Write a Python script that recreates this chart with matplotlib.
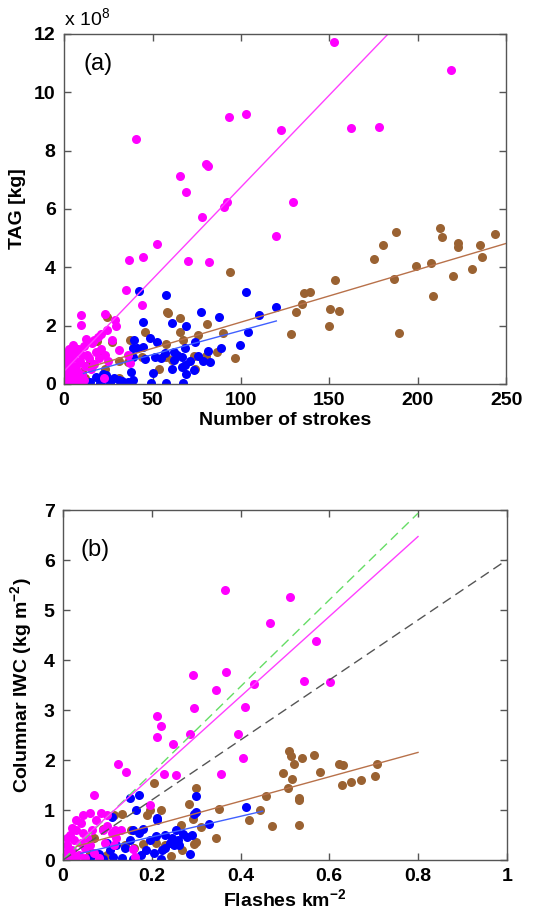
import matplotlib.pyplot as plt
import numpy as np

plt.rcParams['font.family'] = ['Liberation Sans', 'DejaVu Sans']
plt.rcParams['font.weight'] = 'bold'
plt.rcParams['axes.labelweight'] = 'bold'
plt.rcParams['mathtext.fontset'] = 'custom'
plt.rcParams['mathtext.rm'] = 'Liberation Sans:bold'
plt.rcParams['mathtext.bf'] = 'Liberation Sans:bold'

# ---- panel (a): strokes vs TAG (x 1e8 kg) ----
a_mag_x = [152.5, 218.5, 40.8, 93.0, 102.8, 122.8, 162.5, 178.3, 80.2, 81.1, 65.8, 68.9, 92.1, 90.2,
           129.4, 77.7, 119.8, 52.8, 36.8, 44.9, 70.0, 82.1, 35.0, 44.0, 9.8, 9.8, 23.2, 28.9, 29.6,
           12.3, 17.0, 20.9, 24.1, 27.0, 31.3, 36.4, 37.4, 22.6,
           1, 2, 3, 1, 2, 4, 5, 6, 3, 7, 8, 1, 2, 4, 6, 9, 10, 11, 12, 13, 8, 5, 3, 14, 16, 18,
           20, 15, 17, 19, 21, 23, 10, 6, 1, 0.5, 9, 25, 2, 4, 7, 11, 0.5, 3, 5]
a_mag_y = [11.71, 10.77, 8.40, 9.14, 9.26, 8.71, 8.77, 8.82, 7.54, 7.49, 7.12, 6.58, 6.24, 6.06,
           6.25, 5.74, 5.06, 4.79, 4.26, 4.34, 4.23, 4.19, 3.21, 2.71, 2.36, 2.01, 2.39, 2.19, 2.00,
           1.53, 1.50, 1.70, 1.85, 1.51, 1.17, 0.98, 0.71, 0.19,
           0.1, 0.3, 0.5, 0.8, 1.0, 1.2, 0.9, 1.1, 0.7, 0.6, 0.4, 0.2, 0.05, 0.05, 0.2, 0.8, 1.0,
           1.3, 0.6, 1.0, 1.2, 1.35, 1.2, 0.9, 1.4, 1.1, 0.9, 0.5, 0.7, 1.6, 1.2, 1.0, 0.3, 0.5,
           0.55, 0.4, 0.1, 0.8, 0.65, 0.35, 0.25, 0.15, 1.05, 0.0, 0.02]

a_blu_x = [42.1, 57.7, 102.8, 119.8, 110.0, 77.5, 87.7, 44.9, 60.9, 68.9, 103.8, 99.6, 88.7, 81.3,
           74.2, 68.1, 39.6, 48.7, 52.5, 38.9, 44.9, 57.2, 61.9, 66.6, 61.9, 51.5, 78.5, 82.3, 68.5,
           60.9, 50.2, 68.9, 66.6, 73.2, 37.9, 49.1, 57.5, 67.5, 38.9, 36.4, 30.8, 23.5, 25.0, 20.4,
           26.0, 14.7, 10.9, 41.5, 39.2, 33.0, 28.0, 18.0, 22.0, 64.0, 71.0, 55.0, 46.0, 76.0]
a_blu_y = [3.20, 3.06, 3.14, 2.64, 2.37, 2.46, 2.29, 2.14, 2.08, 1.98, 1.77, 1.33, 1.25, 1.13,
           1.45, 1.25, 1.51, 1.57, 1.45, 1.22, 1.28, 1.05, 1.11, 0.94, 0.82, 0.94, 0.79, 0.74, 0.65,
           0.51, 0.39, 0.34, 0.59, 0.48, 0.42, 0.05, 0.05, 0.05, 0.14, 0.08, 0.14, 0.30, 0.12, 0.05,
           0.05, 0.08, 0.05, 1.22, 0.94, 0.10, 0.20, 0.25, 0.35, 1.00, 0.80, 0.90, 0.85, 0.95]

a_brn_x = [243.6, 212.8, 213.8, 222.8, 222.8, 234.9, 236.4, 187.4, 180.4, 175.5, 198.7, 207.5, 219.8,
           230.4, 186.4, 153.4, 135.8, 138.9, 134.5, 131.1, 150.2, 155.7, 149.6, 128.5, 189.2, 208.5,
           93.6, 58.1, 59.0, 65.7, 75.7, 80.8, 89.8, 65.7, 45.5, 67.2, 57.5, 96.4, 86.4, 80.2, 73.2,
           73.8, 53.4, 57.7, 61.3, 44.0, 37.4, 27.0, 18.5, 24.5, 30.8, 23.2, 30.8, 36.4, 14.7, 10.0,
           12.0, 16.0, 20.0]
a_brn_y = [5.13, 5.36, 5.03, 4.82, 4.69, 4.77, 4.37, 5.20, 4.77, 4.29, 4.06, 4.14, 3.71,
           3.93, 3.59, 3.57, 3.11, 3.14, 2.74, 2.46, 2.56, 2.50, 1.99, 1.70, 1.76, 3.02,
           3.83, 2.48, 2.42, 2.27, 1.68, 2.06, 1.74, 1.79, 1.77, 1.51, 1.36, 0.88, 1.11, 0.97, 0.97,
           0.50, 0.50, 0.91, 0.82, 0.94, 1.51, 1.45, 1.49, 2.31, 0.79, 0.50, 0.19, 0.77, 0.77, 0.42,
           0.20, 0.60, 1.10]

# fitted lines (slope, intercept, x range)
a_mag_fit = (0.0631, 0.44, 0, 220)
a_brn_fit = (0.0180, 0.32, 14, 250)
a_blu_fit = (0.0165, 0.18, 11, 120)

# ---- panel (b): flashes vs columnar IWC ----
b_mag_x = [0.364, 0.511, 0.467, 0.571, 0.368, 0.292, 0.344, 0.430, 0.542, 0.601, 0.295, 0.411,
           0.212, 0.220, 0.212, 0.248, 0.287, 0.394, 0.406, 0.125, 0.141, 0.227, 0.255, 0.355,
           0.070, 0.195, 0.117, 0.158, 0.162,
           0.005, 0.010, 0.015, 0.020, 0.025, 0.030, 0.035, 0.040, 0.045, 0.050, 0.010, 0.020, 0.030,
           0.040, 0.055, 0.060, 0.065, 0.070, 0.008, 0.018, 0.028, 0.050, 0.060, 0.075, 0.085, 0.090,
           0.100, 0.110, 0.095, 0.120, 0.130, 0.115, 0.080, 0.100, 0.045, 0.003, 0.012]
b_mag_y = [5.40, 5.27, 4.75, 4.38, 3.77, 3.71, 3.40, 3.53, 3.59, 3.57, 3.05, 3.07,
           2.89, 2.69, 2.47, 2.33, 2.53, 2.53, 2.05, 1.93, 1.77, 1.72, 1.71, 1.72,
           1.31, 1.10, 0.61, 0.23, 0.07,
           0.10, 0.30, 0.50, 0.20, 0.40, 0.60, 0.10, 0.35, 0.55, 0.25, 0.05, 0.65, 0.80,
           0.75, 0.45, 0.30, 0.60, 0.15, 0.45, 0.15, 0.02, 0.05, 0.95, 0.80, 0.95, 0.60,
           0.90, 0.55, 0.35, 0.45, 0.60, 0.30, 0.05, 0.68, 0.90, 0.00, 0.20]

b_blu_x = [0.171, 0.150, 0.300, 0.165, 0.412, 0.212, 0.212, 0.110, 0.300, 0.296, 0.328, 0.180,
           0.158, 0.172, 0.255, 0.210, 0.230, 0.245, 0.260, 0.270, 0.280, 0.290, 0.250, 0.240,
           0.287, 0.220, 0.222, 0.188, 0.195, 0.082, 0.105, 0.113, 0.132, 0.158, 0.060, 0.070,
           0.090, 0.120, 0.140, 0.100, 0.175, 0.205, 0.230, 0.262, 0.150]
b_blu_y = [1.30, 1.25, 1.28, 1.00, 1.07, 0.85, 0.81, 0.87, 0.97, 0.93, 0.72, 0.63,
           0.60, 0.55, 0.60, 0.48, 0.50, 0.45, 0.40, 0.52, 0.47, 0.50, 0.30, 0.35,
           0.13, 0.03, 0.20, 0.20, 0.40, 0.13, 0.20, 0.07, 0.05, 0.02, 0.05, 0.15,
           0.03, 0.30, 0.25, 0.35, 0.10, 0.15, 0.25, 0.30, 0.40]

b_brn_x = [0.509, 0.513, 0.566, 0.539, 0.622, 0.631, 0.708, 0.520, 0.495, 0.517, 0.578, 0.704,
           0.629, 0.648, 0.672, 0.506, 0.531, 0.531, 0.458, 0.531, 0.472, 0.443, 0.419, 0.351,
           0.344, 0.300, 0.285, 0.292, 0.312, 0.300, 0.204, 0.220, 0.197, 0.189, 0.267, 0.269,
           0.244, 0.225, 0.116, 0.133, 0.154, 0.180, 0.210, 0.160, 0.090, 0.070, 0.060, 0.140,
           0.100, 0.230, 0.295]
b_brn_y = [2.19, 2.09, 2.11, 2.05, 1.93, 1.91, 1.93, 1.93, 1.75, 1.63, 1.77, 1.69,
           1.50, 1.57, 1.60, 1.45, 1.25, 1.21, 1.28, 0.71, 0.69, 1.01, 0.81, 1.02,
           0.45, 1.45, 1.12, 0.83, 0.67, 0.37, 1.55, 1.00, 1.00, 0.91, 0.70, 0.20,
           0.09, 0.22, 0.90, 0.93, 0.60, 0.33, 0.35, 0.25, 0.62, 0.45, 0.15, 0.30,
           0.10, 0.30, 0.32]

b_grn_fit = (8.67, 0.0, 0.0, 0.8)
b_blk_fit = (6.0, 0.0, 0.0, 1.0)
b_mag_fit = (8.0, 0.07, 0.03, 0.8)
b_brn_fit = (2.44, 0.20, 0.03, 0.8)
b_blu_fit = (2.06, 0.05, 0.04, 0.45)

MAG = '#ff00ff'
BLU = '#0000ff'
BRN = '#9a6232'
MS = 6.5


def fitline(ax, fit, **kw):
    m, c, x0, x1 = fit
    xx = np.array([x0, x1])
    ax.plot(xx, m * xx + c, **kw)


def style(ax):
    for s in ax.spines.values():
        s.set_color('#555555')
        s.set_linewidth(1.0)
    ax.tick_params(direction='in', top=True, right=True, length=5, width=1,
                   color='#555555', labelsize=14, pad=6)


fig = plt.figure(figsize=(5.34, 9.09), dpi=100)

ax1 = fig.add_axes([0.120, 0.5776, 0.828, 0.385])
ax1.plot(a_brn_x, a_brn_y, 'o', color=BRN, ms=MS, mec='none')
ax1.plot(a_blu_x, a_blu_y, 'o', color=BLU, ms=MS, mec='none')
ax1.plot(a_mag_x, a_mag_y, 'o', color=MAG, ms=MS, mec='none')
fitline(ax1, a_mag_fit, color='#ff40ff', lw=1)
fitline(ax1, a_brn_fit, color='#b8714a', lw=1)
fitline(ax1, a_blu_fit, color='#4060ff', lw=1)
ax1.set_xlim(0, 250)
ax1.set_ylim(0, 12)
ax1.set_xticks([0, 50, 100, 150, 200, 250])
ax1.set_yticks([0, 2, 4, 6, 8, 10, 12])
style(ax1)
ax1.set_xlabel('Number of strokes', fontsize=14, fontweight='bold', labelpad=2)
ax1.set_ylabel('TAG [kg]', fontsize=14, fontweight='bold', labelpad=6)
ax1.text(0.0, 1.012, 'x 10$^{\\mathregular{8}}$', transform=ax1.transAxes, fontsize=14,
         fontweight='normal', va='bottom', ha='left', math_fontfamily='dejavusans')
ax1.text(0.045, 0.915, '(a)', transform=ax1.transAxes, fontsize=17, fontweight='normal',
         va='center', ha='left')

ax2 = fig.add_axes([0.118, 0.0539, 0.831, 0.385])
ax2.plot(b_brn_x, b_brn_y, 'o', color=BRN, ms=MS, mec='none')
ax2.plot(b_blu_x, b_blu_y, 'o', color=BLU, ms=MS, mec='none')
ax2.plot(b_mag_x, b_mag_y, 'o', color=MAG, ms=MS, mec='none')
fitline(ax2, b_grn_fit, color='#66dd66', lw=1, ls=(0, (7, 4)))
fitline(ax2, b_blk_fit, color='#555555', lw=1, ls=(0, (7, 4)))
fitline(ax2, b_mag_fit, color='#ff40ff', lw=1)
fitline(ax2, b_brn_fit, color='#b8714a', lw=1)
fitline(ax2, b_blu_fit, color='#4060ff', lw=1)
ax2.set_xlim(0, 1)
ax2.set_ylim(0, 7)
ax2.set_xticks([0, 0.2, 0.4, 0.6, 0.8, 1])
ax2.set_xticklabels(['0', '0.2', '0.4', '0.6', '0.8', '1'])
ax2.set_yticks(range(8))
style(ax2)
ax2.set_xlabel('Flashes km$^{-2}$', fontsize=14, fontweight='bold', labelpad=2)
ax2.set_ylabel('Columnar IWC (kg m$^{-2}$)', fontsize=14, fontweight='bold', labelpad=6)
ax2.text(0.04, 0.885, '(b)', transform=ax2.transAxes, fontsize=17, fontweight='normal',
         va='center', ha='left')

fig.savefig('out.png', dpi=100)
